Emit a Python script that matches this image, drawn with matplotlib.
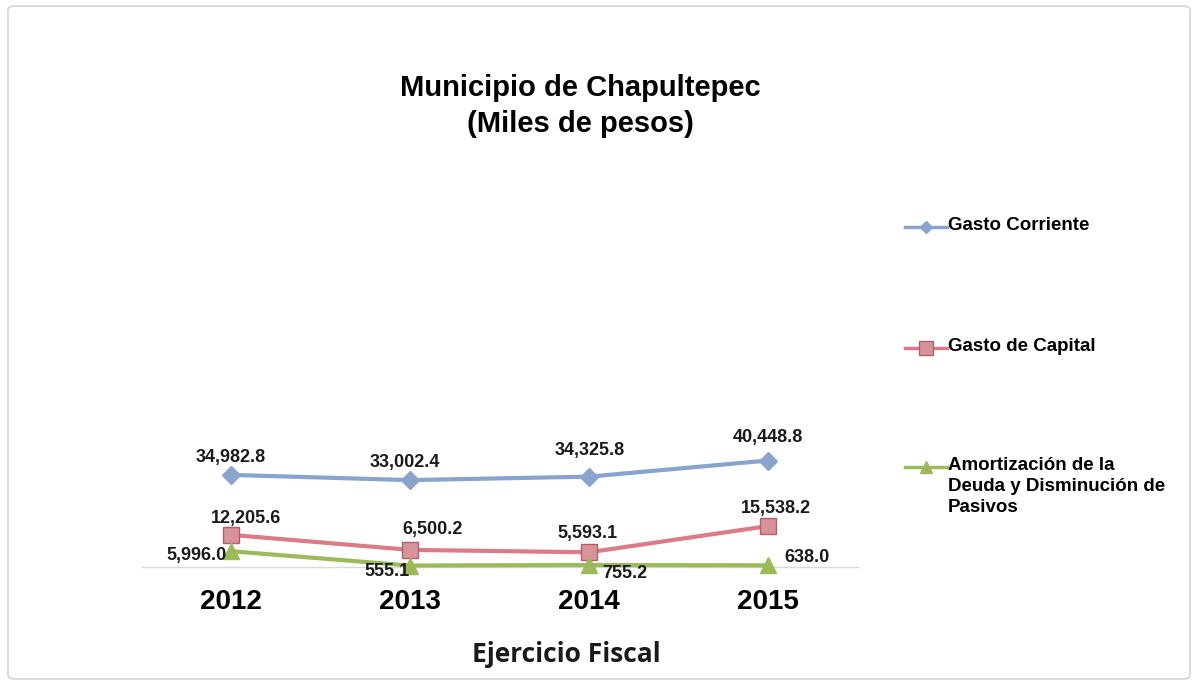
import matplotlib.pyplot as plt
import numpy as np
from matplotlib.lines import Line2D
from matplotlib.patches import FancyBboxPatch

years = ['2012', '2013', '2014', '2015']
gasto_corriente = [34982.8, 33002.4, 34325.8, 40448.8]
gasto_capital = [12205.6, 6500.2, 5593.1, 15538.2]
amortizacion = [5996.0, 555.1, 755.2, 638.0]

series_names = ['Gasto Corriente', 'Gasto de Capital',
                'Amortización de la\nDeuda y Disminución de\nPasivos']

# label offsets in pixels (dx, dy) for each point
off_corriente = [(0, 17), (-5, 18), (1, 26), (0, 23)]
off_capital = [(15, 16), (23, 20), (-2, 19), (8, 18)]
off_amort = [(-34, -4), (-23, -6), (36, -8), (39, 8)]

blue = '#87a3d2'
red = '#dc7a86'
red_face = '#d7939c'
red_edge = '#b0606a'
green = '#9bbb59'

plt.rcParams['font.family'] = ['Liberation Sans', 'DejaVu Sans']

W, H = 1198, 684
fig = plt.figure(figsize=(W / 100, H / 100), dpi=100)
fig.patch.set_facecolor('white')

# outer frame
frame = FancyBboxPatch((8 / W, 5 / H), 1182 / W, 673 / H,
                       boxstyle='round,pad=0,rounding_size=0.006',
                       transform=fig.transFigure, facecolor='none',
                       edgecolor='#d4d4d4', linewidth=1.2)
fig.add_artist(frame)

ax = fig.add_axes([141.5 / W, 117 / H, 716 / W, 387 / H])
x = np.arange(len(years))

ax.plot(x, gasto_corriente, color=blue, lw=3, marker='D', ms=9,
        mfc='#8aa4cc', mec='#8aa4cc', zorder=4, clip_on=False)
ax.plot(x, gasto_capital, color=red, lw=3, marker='s', ms=12,
        mfc=red_face, mec=red_edge, mew=1, zorder=4, clip_on=False)
ax.plot(x, amortizacion, color=green, lw=3, marker='^', ms=11,
        mfc=green, mec=green, zorder=4, clip_on=False)

def label_points(vals, offsets):
    for xi, v, (dx, dy) in zip(x, vals, offsets):
        ax.annotate(f'{v:,.1f}', (xi, v), xytext=(dx, dy),
                    textcoords='offset pixels', ha='center', va='center',
                    fontsize=13, fontweight='bold', color='#1a1a1a', zorder=5)

label_points(gasto_corriente, off_corriente)
label_points(gasto_capital, off_capital)
label_points(amortizacion, off_amort)

ax.set_xlim(-0.5, len(years) - 0.5)
ax.set_ylim(0, 147000)
ax.set_xticks(x)
ax.set_xticklabels(years, fontsize=20, fontweight='bold')
ax.tick_params(axis='x', length=0, pad=16)
ax.set_yticks([])
for side in ['top', 'right', 'left']:
    ax.spines[side].set_visible(False)
ax.spines['bottom'].set_color('#d9d9d9')
ax.spines['bottom'].set_linewidth(1)
ax.patch.set_alpha(0)

fig.text(580 / W, 1 - 88 / H, 'Municipio de Chapultepec', ha='center',
         va='center', fontsize=21, fontweight='bold')
fig.text(580 / W, 1 - 124 / H, '(Miles de pesos)', ha='center',
         va='center', fontsize=21, fontweight='bold')

fig.text(566 / W, 1 - 655 / H, 'Ejercicio Fiscal', ha='center', va='center',
         fontsize=19, fontweight='bold', family=['Open Sans', 'DejaVu Sans'],
         color='#1a1a1a')

# legend drawn by hand so the key sits on the first text line
legend_y = [227, 348, 467]
styles = [dict(color=blue, marker='D', ms=6, mfc='#8aa4cc', mec='#8aa4cc'),
          dict(color=red, marker='s', ms=10, mfc=red_face, mec=red_edge),
          dict(color=green, marker='^', ms=8, mfc=green, mec=green)]
for yy, name, st in zip(legend_y, series_names, styles):
    yf = 1 - yy / H
    fig.add_artist(Line2D([905 / W, 926 / W, 947 / W], [yf, yf, yf],
                          transform=fig.transFigure, lw=2.5, markevery=[1], **st))
    fig.text(948 / W, 1 - (yy - 10) / H, name, ha='left', va='top',
             fontsize=13.5, fontweight='bold', linespacing=1.32)

fig.savefig('out.png', dpi=100)
